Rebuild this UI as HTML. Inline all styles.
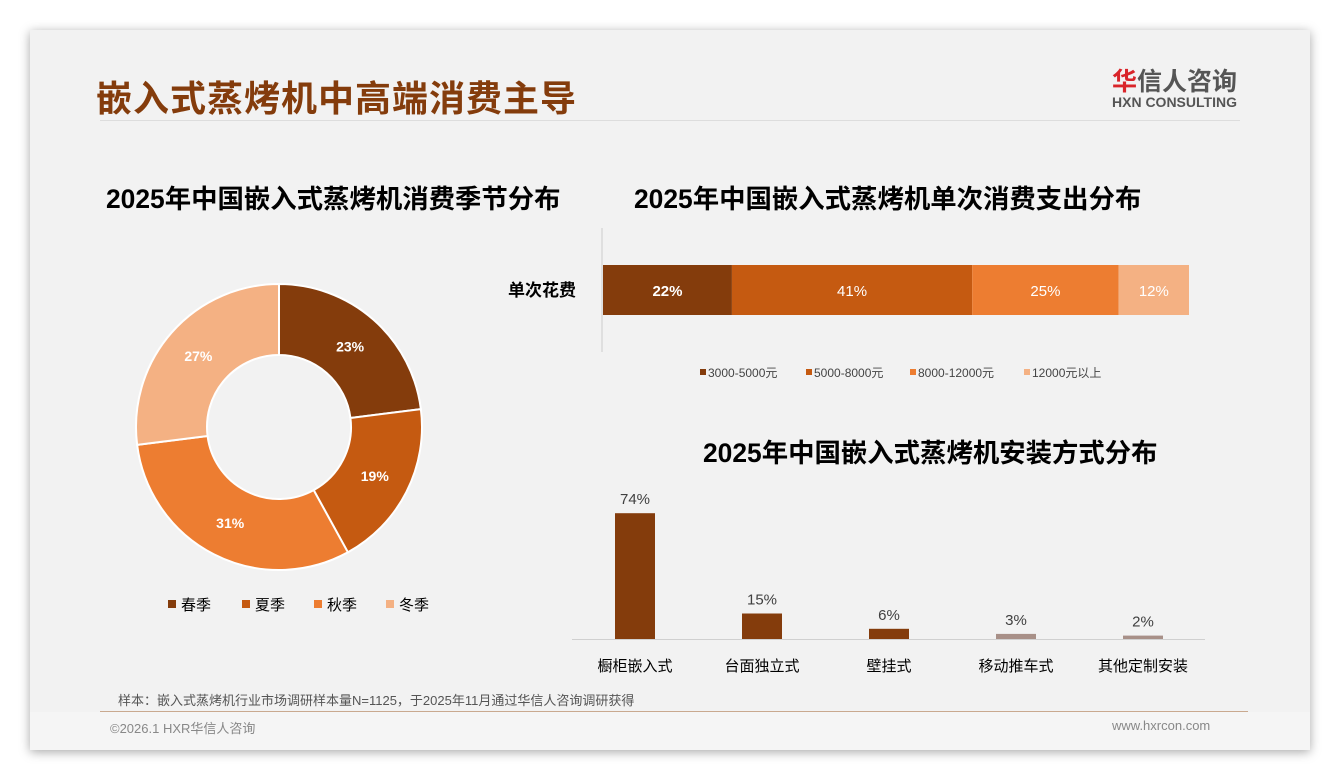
<!DOCTYPE html>
<html><head><meta charset="utf-8">
<style>
body{margin:0;width:1340px;height:780px;background:#fff;font-family:"Liberation Sans","Noto Sans CJK SC",sans-serif;overflow:hidden;position:relative}
.card{position:absolute;left:30px;top:30px;width:1280px;height:720px;background:#f2f2f2;box-shadow:0 2px 10px rgba(0,0,0,.35)}
.foot{position:absolute;left:30px;top:712px;width:1280px;height:38px;background:#f5f5f5}
.t{position:absolute;white-space:nowrap}
.ct{font-weight:bold;font-size:26.4px;color:#000}
</style></head><body>
<div class="card"></div>
<div class="foot"></div>
<div class="t" style="left:96px;top:70px;font-size:36px;font-weight:bold;color:#843C0C;letter-spacing:1px">嵌入式蒸烤机中高端消费主导</div>
<div style="position:absolute;left:100px;top:120px;width:1140px;height:1px;background:#ddd"></div>
<div class="t" style="left:1112px;top:62px;font-size:25px;font-weight:bold;color:#555"><span style="color:#d9252a">华</span>信人咨询</div>
<div class="t" style="left:1112px;top:94px;font-size:14px;font-weight:bold;color:#555">HXN CONSULTING</div>

<div class="t ct" style="left:106px;top:177px">2025年中国嵌入式蒸烤机消费季节分布</div>
<div class="t ct" style="left:634px;top:177px">2025年中国嵌入式蒸烤机单次消费支出分布</div>
<div class="t ct" style="left:703px;top:431px">2025年中国嵌入式蒸烤机安装方式分布</div>

<svg id="chart" width="1340" height="780" style="position:absolute;left:0;top:0"></svg>

<div class="t" style="left:118px;top:690px;font-size:13px;color:#555">样本：嵌入式蒸烤机行业市场调研样本量N=1125，于2025年11月通过华信人咨询调研获得</div>
<div style="position:absolute;left:100px;top:711px;width:1148px;height:1px;background:#c9a98f"></div>
<div class="t" style="left:110px;top:718px;font-size:13px;color:#888">©2026.1 HXR华信人咨询</div>
<div class="t" style="left:1112px;top:718px;font-size:13px;color:#888">www.hxrcon.com</div>

<script>
const seasons=["春季","夏季","秋季","冬季"];
const seasonVals=[23,19,31,27];
const spendCats=["3000-5000元","5000-8000元","8000-12000元","12000元以上"];
const spendVals=[22,41,25,12];
const installCats=["橱柜嵌入式","台面独立式","壁挂式","移动推车式","其他定制安装"];
const installVals=[74,15,6,3,2];
const cols=["#843C0C","#C55A11","#ED7D31","#F4B183"];
const svg=document.getElementById('chart');const NS="http://www.w3.org/2000/svg";
function mk(tag,attrs,txt){const e=document.createElementNS(NS,tag);for(const k in attrs)e.setAttribute(k,attrs[k]);if(txt!==undefined)e.textContent=txt;svg.appendChild(e);return e;}
// donut
const cx=279,cy=427,R=143,r=72;
let tot=seasonVals.reduce((a,b)=>a+b,0),acc=0;
seasonVals.forEach((v,i)=>{
 const a0=acc/tot*2*Math.PI,a1=(acc+v)/tot*2*Math.PI;acc+=v;
 const p=(a,rr)=>[cx+rr*Math.sin(a),cy-rr*Math.cos(a)];
 const [x0,y0]=p(a0,R),[x1,y1]=p(a1,R),[x2,y2]=p(a1,r),[x3,y3]=p(a0,r);const lg=(a1-a0)>Math.PI?1:0;
 const s=mk('path',{d:`M${x0},${y0}A${R},${R} 0 ${lg} 1 ${x1},${y1}L${x2},${y2}A${r},${r} 0 ${lg} 0 ${x3},${y3}Z`,fill:cols[i],stroke:'#fff','stroke-width':2});
 
 
 const [lx,ly]=p((a0+a1)/2,(R+r)/2);
 const t=mk('text',{x:lx,y:ly+5,'text-anchor':'middle','font-size':14,'font-weight':'bold',fill:'#fff'},v+'%');
 
 
});
const lgX=[168,242,314,386];
seasons.forEach((s,i)=>{
 const b=mk('rect',{x:lgX[i],y:600,width:8,height:8,fill:cols[i]});
 
 
 const t=mk('text',{x:lgX[i]+13,y:610,'font-size':15,fill:'#000'},s);
 
 
});
// stacked
const sx0=603,sw=586,sy=265,sh=50;
mk('line',{x1:602,y1:228,x2:602,y2:352,stroke:'#ccc'});
const cl=mk('text',{x:508,y:296,'font-size':17,'font-weight':'bold',fill:'#000'},'单次花费');


let sacc=0;const stot=spendVals.reduce((a,b)=>a+b,0);
spendVals.forEach((v,i)=>{
 const x=sx0+sacc/stot*sw,w=v/stot*sw;sacc+=v;
 const s=mk('rect',{x:x,y:sy,width:w,height:sh,fill:cols[i]});
 
 
 const t=mk('text',{x:x+w/2,y:sy+31,'text-anchor':'middle','font-size':15,'font-weight':i==0?'bold':'normal',fill:'#fff'},v+'%');
 
 
});
const slX=[700,806,910,1024];
spendCats.forEach((s,i)=>{
 const b=mk('rect',{x:slX[i],y:369,width:6,height:6,fill:cols[i]});
 
 
 const t=mk('text',{x:slX[i]+8,y:377,'font-size':12,fill:'#444'},s);
 
 
});
// bars
const base=639,pxPer=1.70,bx0=635,step=127,bw=40;
mk('line',{x1:572,y1:base+0.5,x2:1205,y2:base+0.5,stroke:'#d0d0d0'});
installVals.forEach((v,i)=>{
 const cxb=bx0+i*step,h=v*pxPer;
 const b=mk('rect',{x:cxb-bw/2,y:base-h,width:bw,height:h,fill:i<3?'#843C0C':'#A89088'});
 
 
 const t=mk('text',{x:cxb,y:base-h-9,'text-anchor':'middle','font-size':15,fill:'#404040'},v+'%');
 
 
 const c=mk('text',{x:cxb,y:671,'text-anchor':'middle','font-size':15,fill:'#000'},installCats[i]);
 
 
});
</script>
</body></html>
